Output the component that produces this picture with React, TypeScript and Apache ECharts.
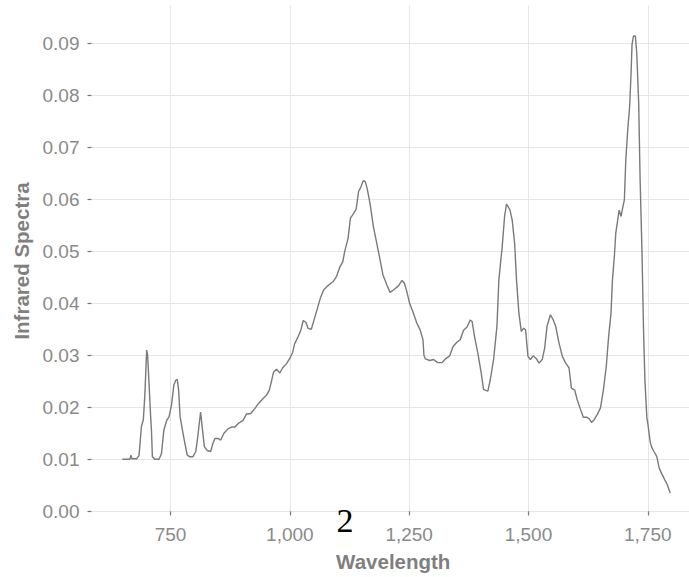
import React, { useEffect, useRef } from 'react';
import * as echarts from 'echarts';

const wavelength = [
  649, 665, 667, 669, 679, 684, 689, 693, 696, 700, 702, 705, 708, 710, 712, 717, 726, 731, 736, 742,
  747, 752, 757, 761, 764, 767, 770, 775, 780, 785, 790, 797, 803, 807, 813, 817, 821, 827, 834, 839,
  843, 850, 855, 862, 871, 878, 885, 892, 902, 909, 918, 927, 934, 944, 951, 957, 962, 966, 972, 979,
  985, 993, 1000, 1006, 1010, 1017, 1023, 1028, 1034, 1038, 1045, 1052, 1059, 1064, 1071, 1080, 1091, 1098, 1104, 1111,
  1115, 1122, 1127, 1133, 1139, 1144, 1149, 1154, 1158, 1162, 1168, 1175, 1182, 1189, 1195, 1203, 1210, 1218, 1228, 1235,
  1240, 1245, 1251, 1259, 1266, 1273, 1279, 1281, 1284, 1293, 1301, 1310, 1319, 1326, 1335, 1342, 1350, 1357, 1364, 1371,
  1378, 1382, 1387, 1394, 1401, 1406, 1415, 1420, 1427, 1434, 1438, 1445, 1450, 1454, 1461, 1466, 1471, 1475, 1480, 1485,
  1490, 1494, 1499, 1504, 1510, 1517, 1522, 1529, 1534, 1539, 1546, 1552, 1557, 1564, 1571, 1578, 1585, 1590, 1597, 1602,
  1609, 1615, 1622, 1627, 1632, 1637, 1644, 1651, 1657, 1663, 1668, 1673, 1676, 1680, 1683, 1687, 1690, 1694, 1698, 1701,
  1704, 1708, 1712, 1715, 1717, 1720, 1724, 1727, 1731, 1734, 1738, 1741, 1744, 1748, 1751, 1755, 1758, 1763, 1769, 1774,
  1779, 1786, 1791, 1797,
];

const infraredSpectra = [
  0.0100, 0.0100, 0.0108, 0.0101, 0.0101, 0.0107, 0.0163, 0.0176, 0.0220, 0.0310, 0.0300, 0.0245, 0.0188, 0.0156, 0.0105, 0.0100, 0.0100, 0.0111, 0.0156, 0.0175,
  0.0182, 0.0204, 0.0243, 0.0252, 0.0254, 0.0233, 0.0182, 0.0156, 0.0131, 0.0108, 0.0105, 0.0105, 0.0115, 0.0143, 0.0191, 0.0156, 0.0124, 0.0117, 0.0115, 0.0131,
  0.0140, 0.0140, 0.0137, 0.0150, 0.0159, 0.0162, 0.0162, 0.0169, 0.0175, 0.0187, 0.0188, 0.0198, 0.0207, 0.0217, 0.0223, 0.0233, 0.0252, 0.0268, 0.0273, 0.0266,
  0.0276, 0.0284, 0.0294, 0.0306, 0.0322, 0.0335, 0.0348, 0.0367, 0.0363, 0.0352, 0.0350, 0.0372, 0.0394, 0.0410, 0.0426, 0.0434, 0.0442, 0.0452, 0.0468, 0.0480,
  0.0500, 0.0525, 0.0564, 0.0572, 0.0581, 0.0615, 0.0624, 0.0636, 0.0634, 0.0621, 0.0592, 0.0548, 0.0516, 0.0484, 0.0455, 0.0436, 0.0421, 0.0426, 0.0434, 0.0444,
  0.0439, 0.0423, 0.0400, 0.0381, 0.0362, 0.0349, 0.0330, 0.0300, 0.0293, 0.0290, 0.0292, 0.0286, 0.0286, 0.0293, 0.0299, 0.0317, 0.0325, 0.0330, 0.0348, 0.0354,
  0.0368, 0.0365, 0.0336, 0.0304, 0.0266, 0.0234, 0.0231, 0.0253, 0.0292, 0.0356, 0.0445, 0.0509, 0.0567, 0.0591, 0.0580, 0.0560, 0.0516, 0.0445, 0.0381, 0.0346,
  0.0352, 0.0349, 0.0298, 0.0292, 0.0299, 0.0293, 0.0285, 0.0292, 0.0314, 0.0356, 0.0378, 0.0368, 0.0356, 0.0324, 0.0298, 0.0285, 0.0276, 0.0237, 0.0233, 0.0215,
  0.0196, 0.0181, 0.0181, 0.0178, 0.0171, 0.0175, 0.0186, 0.0199, 0.0233, 0.0278, 0.0336, 0.0381, 0.0445, 0.0490, 0.0535, 0.0560, 0.0579, 0.0567, 0.0586, 0.0599,
  0.0676, 0.0733, 0.0778, 0.0842, 0.0897, 0.0914, 0.0914, 0.0881, 0.0785, 0.0637, 0.0496, 0.0355, 0.0253, 0.0182, 0.0163, 0.0134, 0.0124, 0.0115, 0.0105, 0.0083,
  0.0073, 0.0060, 0.0051, 0.0035,
];

const xTickValues = [750, 1000, 1250, 1500, 1750];
const yTickValues = [0, 0.01, 0.02, 0.03, 0.04, 0.05, 0.06, 0.07, 0.08, 0.09];
const xAxisTitle = 'Wavelength';
const yAxisTitle = 'Infrared Spectra';
const strayLabel = '2';

export default function App() {
  const ref = useRef<HTMLDivElement>(null);

  useEffect(() => {
    if (!ref.current) return;
    const chart = echarts.init(ref.current, null, { renderer: 'svg' });
    const points = wavelength.map((w, i) => [w, infraredSpectra[i]]);
    const labelFont = '"Liberation Sans", Arial, sans-serif';

    chart.setOption({
      animation: false,
      backgroundColor: '#ffffff',
      grid: {
        left: 91.5,
        right: -6,
        top: 5.5,
        bottom: 60.5,
        containLabel: false,
        outerBoundsMode: 'none',
      },
      xAxis: {
        type: 'value',
        min: 584.4,
        max: 1849,
        name: xAxisTitle,
        nameLocation: 'middle',
        nameGap: 34,
        nameTextStyle: {
          color: '#7f7f7f',
          fontSize: 20.5,
          fontWeight: 'bold',
          fontFamily: labelFont,
        },
        axisLine: { show: false },
        axisTick: {
          show: true,
          length: 4,
          customValues: xTickValues,
          lineStyle: { color: '#777777', width: 1.2 },
        },
        axisLabel: {
          customValues: xTickValues,
          margin: 8,
          color: '#8a8a8a',
          fontSize: 19,
          fontFamily: labelFont,
          formatter: (v: number) => v.toLocaleString('en-US'),
        },
        splitLine: { show: true, lineStyle: { color: '#e6e6e6', width: 1 } },
      },
      yAxis: {
        type: 'value',
        min: -0.001,
        max: 0.09727,
        name: yAxisTitle,
        nameLocation: 'middle',
        nameGap: 60,
        nameTextStyle: {
          color: '#7f7f7f',
          fontSize: 20.5,
          fontWeight: 'bold',
          fontFamily: labelFont,
        },
        axisLine: { show: false },
        axisTick: {
          show: true,
          length: 4,
          customValues: yTickValues,
          lineStyle: { color: '#777777', width: 1.2 },
        },
        axisLabel: {
          customValues: yTickValues,
          margin: 12,
          color: '#8a8a8a',
          fontSize: 19,
          fontFamily: labelFont,
          formatter: (v: number) => v.toFixed(2),
        },
        splitLine: { show: true, lineStyle: { color: '#e6e6e6', width: 1 } },
      },
      series: [
        {
          type: 'line',
          data: points,
          showSymbol: false,
          symbol: 'none',
          lineStyle: { color: '#7a7a7a', width: 1.4 },
          clip: true,
        },
      ],
      graphic: [
        {
          type: 'text',
          x: 345,
          y: 520.5,
          z: 100,
          style: {
            text: strayLabel,
            font: '34px "Liberation Serif", "Times New Roman", serif',
            fill: '#000000',
            align: 'center',
            verticalAlign: 'middle',
          },
        },
      ],
    });

    return () => chart.dispose();
  }, []);

  return (
    <div
      ref={ref}
      style={{ position: 'absolute', left: 0, top: 0, width: 689, height: 577 }}
    />
  );
}
